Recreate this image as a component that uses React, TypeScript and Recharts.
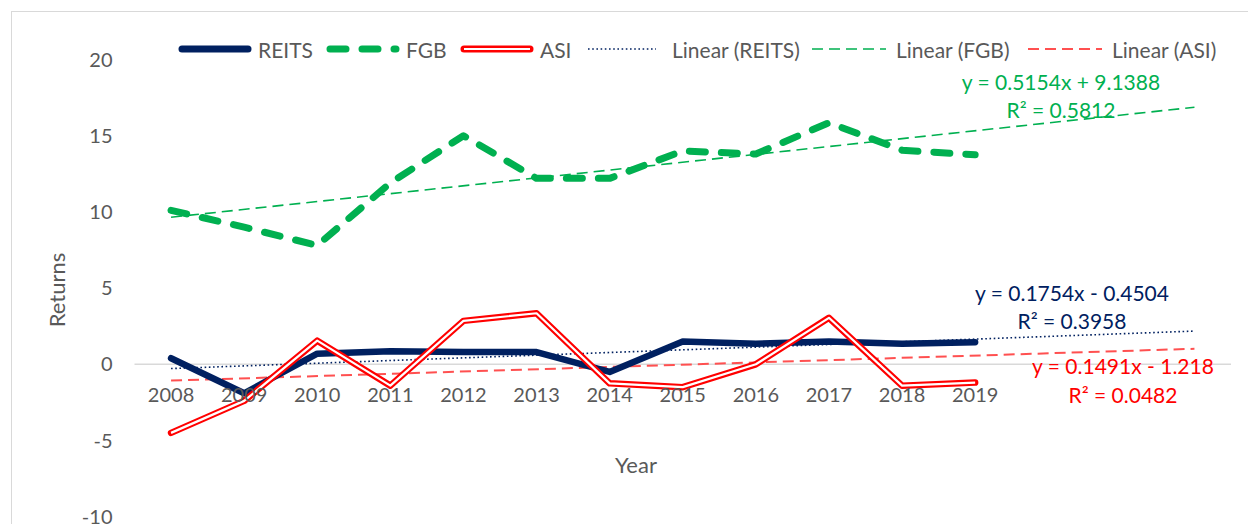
import { LineChart, Line, XAxis, YAxis, ReferenceLine } from 'recharts';

const years = [2008, 2009, 2010, 2011, 2012, 2013, 2014, 2015, 2016, 2017, 2018, 2019];
const reits = [0.4, -1.9, 0.7, 0.85, 0.8, 0.8, -0.5, 1.5, 1.35, 1.5, 1.35, 1.45];
const fgb = [10.1, 9.0, 7.8, 11.9, 15.0, 12.2, 12.2, 14.0, 13.8, 15.85, 14.05, 13.75];
const asi = [-4.5, -2.4, 1.55, -1.4, 2.85, 3.35, -1.25, -1.5, 0.0, 3.05, -1.4, -1.2];

// trendline end points (read at 2008 and at the forecast end, 2022)
const trendYears = [2008, 2022];
const reitsTrend = [-0.28, 2.18];
const fgbTrend = [9.65, 16.87];
const asiTrend = [-1.07, 1.02];

const yTicks = [-10, -5, 0, 5, 10, 15, 20];

const FONT = 'Lato, "Open Sans", sans-serif';
const GREY = '#595959';
const NAVY = '#002060';
const GREEN = '#00B050';
const RED = '#FF0000';
const RED_LIGHT = '#FF5050';

const allYears = Array.from(new Set([...years, ...trendYears])).sort((a, b) => a - b);
const rows = allYears.map((yr) => {
  const i = years.indexOf(yr);
  const t = trendYears.indexOf(yr);
  return {
    year: yr,
    reits: i >= 0 ? reits[i] : null,
    fgb: i >= 0 ? fgb[i] : null,
    asi: i >= 0 ? asi[i] : null,
    reitsTrend: t >= 0 ? reitsTrend[t] : null,
    fgbTrend: t >= 0 ? fgbTrend[t] : null,
    asiTrend: t >= 0 ? asiTrend[t] : null,
  };
});

// x axis sits at the bottom of the plot; labels are lifted up under the zero line
const renderYearTick = (props: any) => {
  const { x, y, payload } = props;
  return (
    <text x={x} y={y} dy={-123} textAnchor="middle" dominantBaseline="central" fill={GREY} fontSize={20} fontFamily={FONT}>
      {payload.value}
    </text>
  );
};

const Swatch = ({ kind }: { kind: string }) => {
  const w = 74;
  return (
    <svg width={w} height={12} style={{ display: 'block' }}>
      {kind === 'reits' && <line x1={4} y1={6} x2={w - 4} y2={6} stroke={NAVY} strokeWidth={7} strokeLinecap="round" />}
      {kind === 'fgb' && (
        <line x1={4} y1={6} x2={w - 4} y2={6} stroke={GREEN} strokeWidth={7} strokeLinecap="round" strokeDasharray="16 16" />
      )}
      {kind === 'asi' && (
        <>
          <line x1={4} y1={6} x2={w - 4} y2={6} stroke={RED} strokeWidth={7} strokeLinecap="round" />
          <line x1={4} y1={6} x2={w - 4} y2={6} stroke="#fff" strokeWidth={2.2} />
        </>
      )}
      {kind === 'reitsTrend' && (
        <line x1={0} y1={6} x2={w - 6} y2={6} stroke={NAVY} strokeWidth={1.6} strokeDasharray="1.6 2.6" />
      )}
      {kind === 'fgbTrend' && (
        <line x1={0} y1={6} x2={w} y2={6} stroke={GREEN} strokeWidth={1.6} strokeDasharray="11 6" />
      )}
      {kind === 'asiTrend' && (
        <line x1={0} y1={6} x2={w} y2={6} stroke={RED_LIGHT} strokeWidth={2} strokeDasharray="11 6" />
      )}
    </svg>
  );
};

const legendItems = [
  { kind: 'reits', label: 'REITS', left: 178 },
  { kind: 'fgb', label: 'FGB', left: 326 },
  { kind: 'asi', label: 'ASI', left: 460 },
  { kind: 'reitsTrend', label: 'Linear (REITS)', left: 588 },
  { kind: 'fgbTrend', label: 'Linear (FGB)', left: 812 },
  { kind: 'asiTrend', label: 'Linear (ASI)', left: 1028 },
];

const equations = [
  { text: 'y = 0.5154x + 9.1388', x: 1061, y: 82, color: GREEN },
  { text: 'R² = 0.5812', x: 1061, y: 110, color: GREEN },
  { text: 'y = 0.1754x - 0.4504', x: 1072, y: 293, color: NAVY },
  { text: 'R² = 0.3958', x: 1072, y: 321, color: NAVY },
  { text: 'y = 0.1491x - 1.218', x: 1123, y: 366, color: RED },
  { text: 'R² = 0.0482', x: 1123, y: 395, color: RED },
];

export default function App() {
  return (
    <div style={{ position: 'absolute', left: 0, top: 0, width: 1248, height: 524, overflow: 'hidden', background: '#fff', fontFamily: FONT }}>
      <div style={{ position: 'absolute', left: 11, top: 11, width: 1260, height: 540, border: '1.5px solid #d9d9d9' }} />
      <LineChart
        width={1248}
        height={570}
        data={rows}
        margin={{ top: 59.5, right: 17, bottom: 23.3, left: 74.5 }}
        style={{ position: 'absolute', left: 0, top: 0 }}
      >
        <XAxis
          dataKey="year"
          type="number"
          domain={[2007.5, 2022.5]}
          ticks={years}
          axisLine={false}
          tickLine={false}
          tickSize={0}
          tickMargin={0}
          height={30}
          tick={renderYearTick}
          interval={0}
        />
        <YAxis
          domain={[-10, 20]}
          ticks={yTicks}
          interval={0}
          width={60}
          axisLine={false}
          tickLine={false}
          tickSize={0}
          tickMargin={22}
          tick={{ fill: GREY, fontSize: 20, fontFamily: FONT }}
        />
        <ReferenceLine y={0} stroke="#d9d9d9" strokeWidth={1.5} />
        <Line dataKey="reitsTrend" stroke={NAVY} strokeWidth={1.6} strokeDasharray="1.6 2.6" dot={false} connectNulls isAnimationActive={false} />
        <Line dataKey="fgbTrend" stroke={GREEN} strokeWidth={1.6} strokeDasharray="11 6" dot={false} connectNulls isAnimationActive={false} />
        <Line dataKey="asiTrend" stroke={RED_LIGHT} strokeWidth={2} strokeDasharray="11 6" dot={false} connectNulls isAnimationActive={false} />
        <Line dataKey="reits" stroke={NAVY} strokeWidth={6.5} strokeLinecap="round" strokeLinejoin="round" dot={false} type="linear" isAnimationActive={false} />
        <Line dataKey="fgb" stroke={GREEN} strokeWidth={7} strokeLinecap="round" strokeLinejoin="round" strokeDasharray="16 16" dot={false} type="linear" isAnimationActive={false} />
        <Line dataKey="asi" stroke={RED} strokeWidth={6.5} strokeLinecap="round" strokeLinejoin="round" dot={false} type="linear" isAnimationActive={false} />
        <Line dataKey="asi" stroke="#fff" strokeWidth={2.2} strokeLinejoin="round" dot={false} type="linear" isAnimationActive={false} />
      </LineChart>

      {legendItems.map((it) => (
        <div key={it.kind} style={{ position: 'absolute', left: it.left, top: 35, height: 28, display: 'flex', alignItems: 'center', gap: 6, color: GREY, fontSize: 21 }}>
          <Swatch kind={it.kind} />
          <span style={{ marginLeft: it.kind.endsWith('Trend') ? 4 : 0 }}>{it.label}</span>
        </div>
      ))}

      {equations.map((e) => (
        <div key={e.text} style={{ position: 'absolute', left: e.x - 150, top: e.y - 14, width: 300, textAlign: 'center', color: e.color, fontSize: 21, lineHeight: '28px' }}>
          {e.text}
        </div>
      ))}

      <div style={{ position: 'absolute', left: 57 - 50, top: 290 - 14, width: 100, textAlign: 'center', color: GREY, fontSize: 22, lineHeight: '28px', transform: 'rotate(-90deg)' }}>
        Returns
      </div>
      <div style={{ position: 'absolute', left: 636 - 50, top: 465 - 14, width: 100, textAlign: 'center', color: GREY, fontSize: 22, lineHeight: '28px' }}>
        Year
      </div>
    </div>
  );
}
